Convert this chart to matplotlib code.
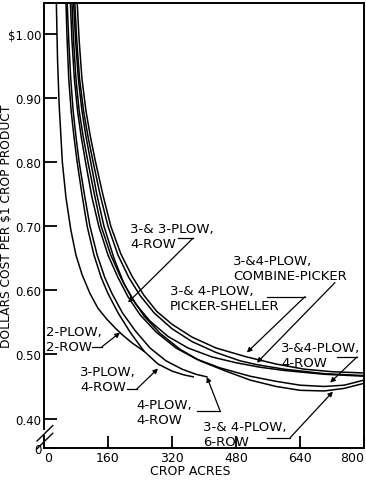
import matplotlib
matplotlib.use('Agg')
import matplotlib.pyplot as plt

# curve readings: acres, dollars cost per $1 crop product
acres_2p2r = [31, 34, 38, 46, 55, 67, 80, 95, 115, 135, 157, 180, 197, 220, 250]
cost_2p2r = [1.05, 0.96, 0.89, 0.80, 0.745, 0.695, 0.655, 0.625, 0.595, 0.572, 0.555, 0.54, 0.53, 0.518, 0.505]

acres_3p4r = [55, 58, 62, 68, 75, 83, 95, 108, 125, 143, 160, 185, 215, 250, 285, 320, 350, 373]
cost_3p4r = [1.05, 0.99, 0.93, 0.88, 0.84, 0.80, 0.75, 0.70, 0.655, 0.62, 0.595, 0.565, 0.535, 0.505, 0.485, 0.474, 0.468, 0.465]

acres_4p4r = [58, 62, 67, 73, 80, 88, 101, 115, 133, 152, 170, 196, 228, 265, 305, 345, 380, 407]
cost_4p4r = [1.05, 0.99, 0.93, 0.88, 0.84, 0.80, 0.75, 0.70, 0.655, 0.62, 0.595, 0.565, 0.537, 0.51, 0.49, 0.477, 0.469, 0.465]

acres_34p4r = [66, 70, 76, 84, 93, 104, 120, 137, 160, 185, 210, 240, 280, 330, 380, 440, 515, 580, 640, 700, 750, 800]
cost_34p4r = [1.05, 0.99, 0.93, 0.88, 0.84, 0.80, 0.745, 0.70, 0.655, 0.62, 0.59, 0.562, 0.535, 0.51, 0.493, 0.479, 0.466, 0.458, 0.452, 0.45, 0.452, 0.46]

acres_34p6r = [70, 74, 80, 88, 98, 110, 126, 143, 167, 192, 218, 250, 290, 340, 390, 450, 515, 580, 640, 700, 750, 800]
cost_34p6r = [1.05, 0.99, 0.93, 0.88, 0.84, 0.80, 0.75, 0.70, 0.655, 0.62, 0.59, 0.56, 0.533, 0.508, 0.49, 0.475, 0.46, 0.45, 0.444, 0.443, 0.447, 0.455]

acres_33p4r = [74, 79, 86, 95, 105, 117, 132, 150, 175, 200, 230, 265, 310, 360, 420, 480, 540, 600, 700, 800]
cost_33p4r = [1.05, 0.99, 0.93, 0.88, 0.84, 0.80, 0.75, 0.70, 0.65, 0.61, 0.578, 0.552, 0.528, 0.51, 0.496, 0.487, 0.48, 0.475, 0.469, 0.466]

acres_combine = [77, 82, 89, 99, 110, 123, 140, 160, 185, 212, 240, 275, 320, 370, 430, 490, 532, 600, 700, 800]
cost_combine = [1.05, 0.99, 0.93, 0.88, 0.84, 0.80, 0.75, 0.70, 0.655, 0.62, 0.592, 0.565, 0.54, 0.52, 0.503, 0.49, 0.484, 0.477, 0.47, 0.467]

acres_sheller = [83, 88, 95, 105, 116, 129, 147, 167, 192, 220, 250, 282, 320, 370, 430, 507, 580, 650, 720, 800]
cost_sheller = [1.05, 0.99, 0.93, 0.88, 0.84, 0.80, 0.75, 0.70, 0.657, 0.622, 0.592, 0.567, 0.547, 0.527, 0.51, 0.496, 0.485, 0.477, 0.473, 0.471]

xticks = [0, 160, 320, 480, 640, 800]
yticks = [0.354, 0.40, 0.50, 0.60, 0.70, 0.80, 0.90, 1.00]
ytick_labels = ['0', '0.40', '0.50', '0.60', '0.70', '0.80', '0.90', '$1.00']

plt.rcParams['font.family'] = ['DejaVu Sans']

fig = plt.figure(figsize=(3.66, 4.81), dpi=100)
ax = fig.add_axes([0.120, 0.0665, 0.875, 0.925])

curves = [(acres_2p2r, cost_2p2r), (acres_3p4r, cost_3p4r), (acres_4p4r, cost_4p4r),
          (acres_34p4r, cost_34p4r), (acres_34p6r, cost_34p6r), (acres_33p4r, cost_33p4r),
          (acres_combine, cost_combine), (acres_sheller, cost_sheller)]
for xs, ys in curves:
    ax.plot(xs, ys, color='black', lw=1.1)

ax.set_xlim(0, 800)
ax.set_ylim(0.354, 1.048)
ax.set_xticks(xticks)
xlabels = ax.set_xticklabels([str(v) for v in xticks], fontsize=9)
xlabels[0].set_horizontalalignment('left')
xlabels[-1].set_horizontalalignment('right')
ax.set_yticks(yticks)
ax.set_yticklabels(ytick_labels, fontsize=8.5)
ax.tick_params(direction='in', length=9, width=1.3, pad=2)
ax.set_xlabel('CROP ACRES', fontsize=9)
ax.xaxis.set_label_coords(0.456, -0.035)
ax.set_ylabel('DOLLARS COST PER $1 CROP PRODUCT', fontsize=8.8)
ax.yaxis.set_label_coords(-0.098, 0.5)

for s in ax.spines.values():
    s.set_linewidth(1.4)
ax.spines['left'].set_visible(False)
# left spine with a break near the bottom
ax.plot([0, 0], [0.354, 0.372], color='black', lw=1.4, clip_on=False)
ax.plot([0, 0], [0.384, 1.048], color='black', lw=1.4, clip_on=False)
ax.plot([-17, 22], [0.365, 0.389], color='black', lw=1.0, clip_on=False)
ax.plot([-17, 22], [0.353, 0.377], color='black', lw=1.0, clip_on=False)

# labels with leaders
notes = [
    ('3-& 3-PLOW,\n4-ROW', (215, 0.707), [(335, 0.681), (372, 0.681)], (210, 0.581)),
    ('3-&4-PLOW,\nCOMBINE-PICKER', (472, 0.657), [(727, 0.612)], (532, 0.487)),
    ('3-& 4-PLOW,\nPICKER-SHELLER', (315, 0.610), [(557, 0.590), (652, 0.590)], (507, 0.503)),
    ('2-PLOW,\n2-ROW', (5, 0.546), [(120, 0.512), (145, 0.512)], (190, 0.534)),
    ('3-PLOW,\n4-ROW', (90, 0.484), [(207, 0.446), (232, 0.446)], (285, 0.478)),
    ('4-PLOW,\n4-ROW', (232, 0.432), [(382, 0.412), (440, 0.412)], (407, 0.465)),
    ('3-&4-PLOW,\n4-ROW', (592, 0.521), [(732, 0.496), (782, 0.496)], (715, 0.456)),
    ('3-& 4-PLOW,\n6-ROW', (397, 0.398), [(557, 0.370), (615, 0.370)], (722, 0.442)),
]
for text, pos, tail, tip in notes:
    ax.text(pos[0], pos[1], text, fontsize=9.5, va='top', ha='left', linespacing=1.2)
    if len(tail) > 1:
        ax.plot([p[0] for p in tail], [p[1] for p in tail], color='black', lw=0.9)
    ax.annotate('', xy=tip, xytext=tail[-1],
                arrowprops=dict(arrowstyle='-|>', color='black', lw=0.9, mutation_scale=7,
                                shrinkA=0, shrinkB=0))

fig.savefig('out.png', dpi=100)
